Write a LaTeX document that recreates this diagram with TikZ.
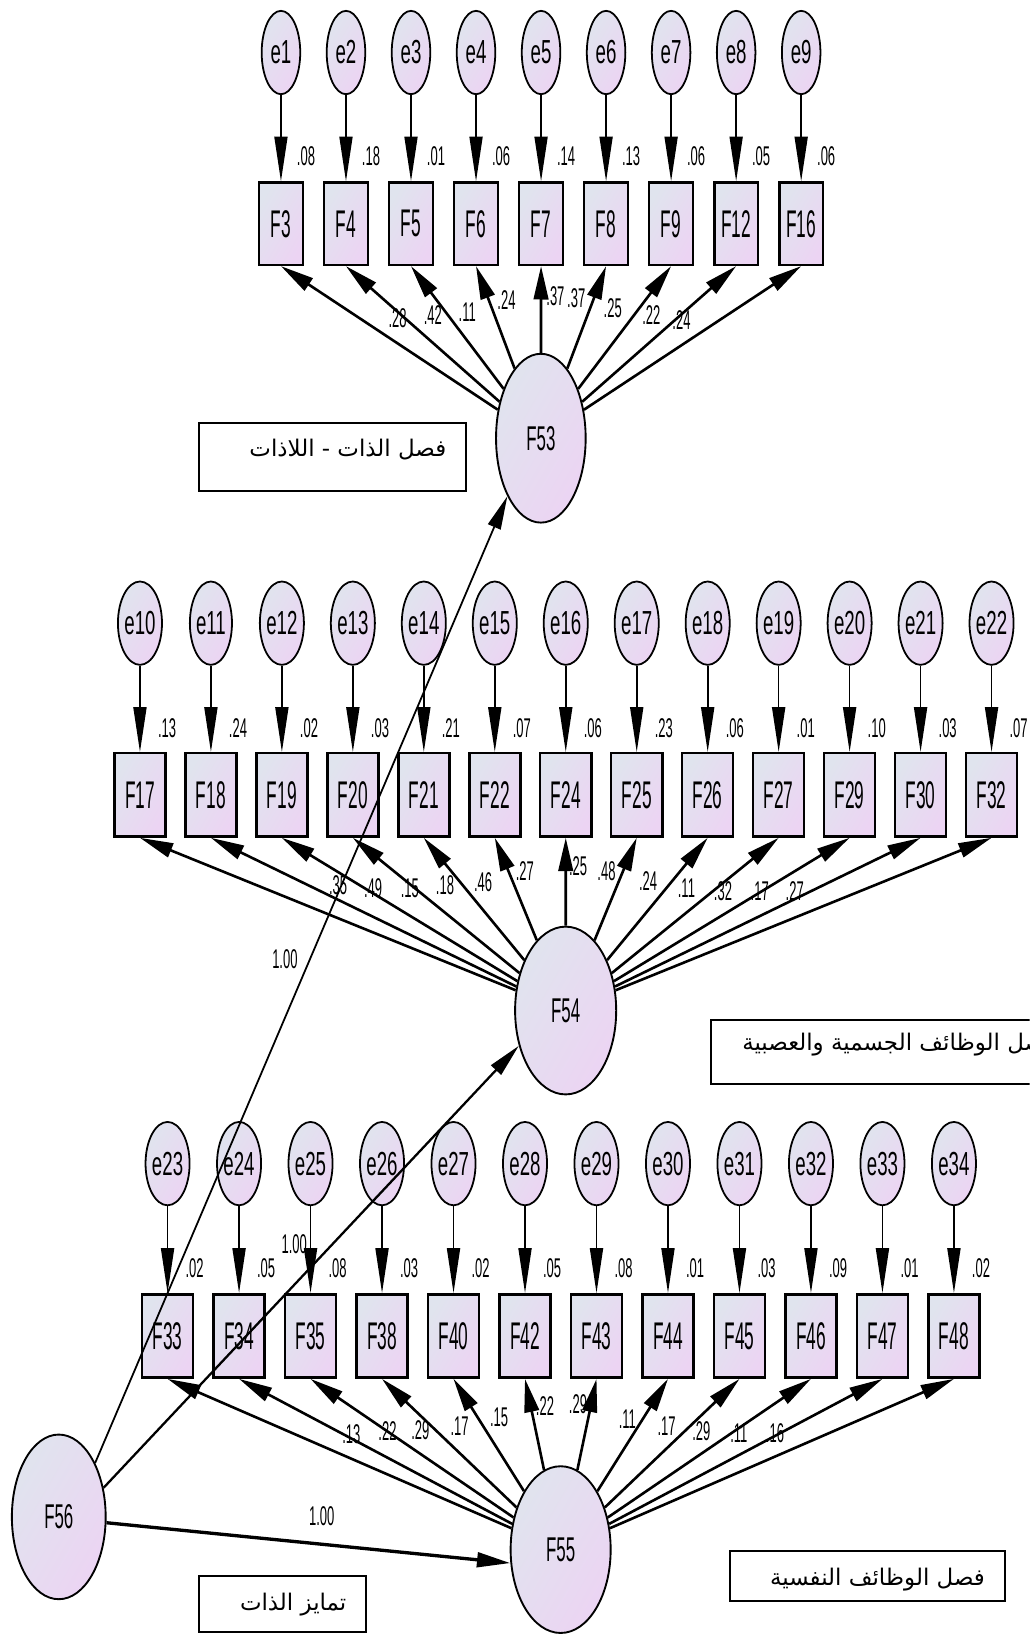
\documentclass[tikz,border=0pt]{standalone}
\usepackage{fontspec}
\usetikzlibrary{shapes.geometric,arrows.meta}
\newfontfamily\amosbox[FakeStretch=0.45]{Liberation Sans}
\newfontfamily\amoslat[FakeStretch=0.49]{Liberation Sans}
\newfontfamily\amoserr[FakeStretch=0.56]{Liberation Sans}
\newfontfamily\amosnum[FakeStretch=0.48]{Liberation Sans}
\newfontfamily\arabicfont[Script=Arabic]{DejaVu Sans}
\TeXXeTstate=1
\definecolor{shA}{HTML}{E0E4EE}
\definecolor{shB}{HTML}{ECD4F3}
\begin{document}
\begin{tikzpicture}[x=1pt,y=-1pt,
  shd/.style={top color=shA,bottom color=shB,shading angle=60},
  errv/.style={ellipse,draw,line width=1.7pt,shd,inner sep=0pt,minimum width=37pt,minimum height=80pt,font=\amoserr\fontsize{32}{32}\selectfont},
  latv/.style={ellipse,draw,line width=1.8pt,shd,inner sep=0pt,font=\amoslat\fontsize{33}{33}\selectfont},
  obsA/.style={rectangle,draw,line width=2.4pt,shd,inner sep=0pt,minimum width=42pt,minimum height=79pt,font=\amosbox\fontsize{37}{37}\selectfont},
  obsB/.style={obsA,minimum width=49pt,minimum height=80pt},
  num/.style={inner sep=0pt,font=\amosnum\fontsize{26}{26}\selectfont},
  errarr/.style={line width=1.6pt,-{Triangle[length=43pt,width=12.5pt]}},
  loadarr/.style={line width=2.5pt,-{Triangle[length=32pt,width=14pt]}},
  lblbox/.style={draw,line width=2pt},
  arab/.style={inner sep=0pt,font=\arabicfont\fontsize{22}{22}\selectfont}
]
\useasboundingbox (0,0) rectangle (988,1568);
\clip (0,0) rectangle (988,1568);
\fill[white] (0,0) rectangle (988,1568);

% ---------- latent variables ----------
\node[latv,minimum width=86pt,minimum height=162pt] (F53) at (519,420.5) {F53};
\node[latv,minimum width=97pt,minimum height=161pt] (F54) at (542.8,969.7) {F54};
\node[latv,minimum width=96pt,minimum height=160pt] (F55) at (538,1487) {F55};
\node[latv,minimum width=90pt,minimum height=158pt] (F56) at (56.4,1455.6) {F56};

% ---------- row 1 ----------
\foreach \i/\ee/\ff/\vv in {0/1/3/.08,1/2/4/.18,2/3/5/.01,3/4/6/.06,4/5/7/.14,5/6/8/.13,6/7/9/.06,7/8/12/.05,8/9/16/.06}{
  \pgfmathsetmacro\xx{269.6+62.4*\i}
  \node[errv] (e\ee) at (\xx,50.4) {e\ee};
  \node[obsA] (F\ff) at (\xx,214.7) {F\ff};
  \draw[errarr] (e\ee) -- (F\ff);
  \node[num] (v\ee) at (\xx+24,150) {\vv};
}
% ---------- row 2 ----------
\foreach \i/\ee/\ff/\vv in {0/10/17/.13,1/11/18/.24,2/12/19/.02,3/13/20/.03,4/14/21/.21,5/15/22/.07,6/16/24/.06,7/17/25/.23,8/18/26/.06,9/19/27/.01,10/20/29/.10,11/21/30/.03,12/22/32/.07}{
  \pgfmathsetmacro\xx{134.3+68.1*\i}
  \node[errv] (e\ee) at (\xx,598) {e\ee};
  \node[obsB] (F\ff) at (\xx,762.8) {F\ff};
  \draw[errarr] (e\ee) -- (F\ff);
  \node[num] (v\ee) at (\xx+26,699) {\vv};
}
% ---------- row 3 ----------
\foreach \i/\ee/\ff/\vv in {0/23/33/.02,1/24/34/.05,2/25/35/.08,3/26/38/.03,4/27/40/.02,5/28/42/.05,6/29/43/.08,7/30/44/.01,8/31/45/.03,9/32/46/.09,10/33/47/.01,11/34/48/.02}{
  \pgfmathsetmacro\xx{160.8+68.6*\i}
  \node[errv] (e\ee) at (\xx,1116.6) {e\ee};
  \node[obsB] (F\ff) at (\xx,1282) {F\ff};
  \draw[errarr] (e\ee) -- (F\ff);
  \node[num] (v\ee) at (\xx+26,1217) {\vv};
}

% ---------- loadings ----------
\foreach \ff in {3,4,5,6,7,8,9,12,16} \draw[loadarr] (F53) -- (F\ff.south);
\foreach \ff in {17,18,19,20,21,22,24,25,26,27,29,30,32} \draw[loadarr] (F54) -- (F\ff.south);
\foreach \ff in {33,34,35,38,40,42,43,44,45,46,47,48} \draw[loadarr] (F55) -- (F\ff.south);

% ---------- second order paths ----------
\draw[line width=1.7pt,-{Triangle[length=32pt,width=13pt]}] (F56.56) -- (F53.240);
\draw[line width=2.2pt,-{Triangle[length=32pt,width=13pt]}] (F56.33) -- (F54.217);
\draw[line width=3.2pt,-{Triangle[length=32pt,width=14pt]}] (F56.353) -- (F55.195);

% ---------- loading labels ----------
\foreach \k/\px/\py/\t in {1/381.6/305/.28,2/415.4/302/.42,3/448.4/300/.11,4/486/288/.24,5/533/284.6/.37,6/553/286/.37,7/588/296/.25,8/625/302/.22,9/654/307/.24}
  \node[num] (la\k) at (\px,\py) {\t};
\foreach \k/\px/\py/\t in {1/324.5/849/.35,2/358/852/.49,3/393.3/852/.15,4/427/849/.18,5/463.6/847/.46,6/503.6/836/.27,7/554.7/831.3/.25,8/582/836/.48,9/621.9/845.7/.24,10/658.7/852/.11,11/693.8/855/.32,12/729/855/.17,13/762.6/855/.27}
  \node[num] (lb\k) at (\px,\py) {\t};
\foreach \k/\px/\py/\t in {1/337.2/1376.5/.13,2/371.8/1373.3/.22,3/403.4/1372/.29,4/441/1368.5/.17,5/479/1360.5/.15,6/523/1349/.22,7/554.6/1347.5/.29,8/602/1362/.11,9/639.7/1368.5/.17,10/673/1373/.29,11/709/1375/.11,12/743.7/1375/.16}
  \node[num] (lc\k) at (\px,\py) {\t};

\node[num] (w1) at (273.4,920.8) {1.00};
\node[num] (w2) at (282.4,1194) {1.00};
\node[num] (w3) at (308.8,1455) {1.00};

% ---------- text boxes ----------
\draw[lblbox] (190.9,406) rectangle (447,471.6);
\node[arab,anchor=east] (t1) at (428.5,431.6) {\beginR فصل الذات - اللاذات\endR};
\draw[lblbox] (682.7,978.4) rectangle (1040,1039.8);
\node[arab,anchor=east] (t2) at (1013,1002.4) {\beginR فصل الوظائف الجسمية والعصبية\endR};
\draw[lblbox] (700.8,1488.4) rectangle (964,1536.4);
\node[arab,anchor=east] (t3) at (945.3,1515.6) {\beginR فصل الوظائف النفسية\endR};
\draw[lblbox] (191.2,1512.3) rectangle (351,1566);
\node[arab,anchor=east] (t4) at (332.5,1539.6) {\beginR تمايز الذات\endR};
\end{tikzpicture}
\end{document}
